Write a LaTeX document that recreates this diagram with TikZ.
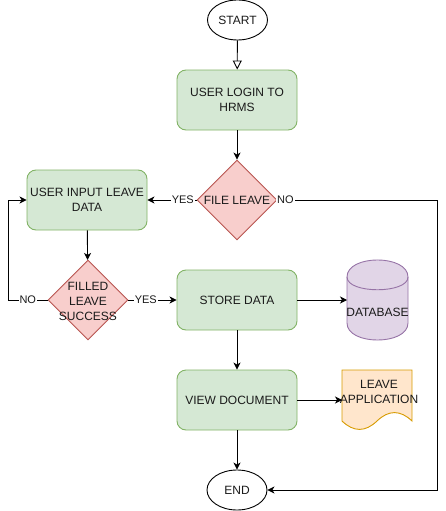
\documentclass[tikz,border=0pt]{standalone}
\usepackage{fontspec}
\setmainfont{Liberation Sans}
\usetikzlibrary{shapes.geometric,arrows.meta}
\definecolor{gfill}{HTML}{D5E8D4}\definecolor{gline}{HTML}{82B366}
\definecolor{rfill}{HTML}{F8CECC}\definecolor{rline}{HTML}{B85450}
\definecolor{pfill}{HTML}{E1D5E7}\definecolor{pline}{HTML}{9673A6}
\definecolor{ofill}{HTML}{FFE6CC}\definecolor{oline}{HTML}{D79B00}
\definecolor{txt}{HTML}{1A1A1A}
\tikzset{
  every node/.style={font=\fontsize{12}{15}\selectfont, text=txt},
  term/.style={ellipse, draw=black, line width=0.9pt, fill=white, minimum width=60, minimum height=40, inner sep=0},
  procbox/.style={rectangle, rounded corners=9, draw=gline, fill=gfill, line width=0.9pt, minimum width=120, minimum height=60, align=center, inner sep=0},
  decis/.style={diamond, draw=rline, fill=rfill, line width=0.9pt, minimum width=80, minimum height=80, inner sep=0, shape aspect=1},
  lbl/.style={fill=white, inner sep=1pt, font=\fontsize{11}{13}\selectfont},
  conn/.style={draw=black, line width=0.9pt, -{Stealth[length=7,width=7,inset=2]}},
}
\begin{document}
\begin{tikzpicture}[x=1pt,y=-1pt]
\useasboundingbox (0,0) rectangle (446,511);
\node[term] (start) at (237.5,20) {START};
\node[procbox] (login) at (237,100) {USER LOGIN TO\\HRMS};
\node[decis] (file) at (237,200) {};
\node at (file) {FILE LEAVE};
\node[procbox] (input) at (87,200) {USER INPUT LEAVE\\DATA};
\node[decis] (filled) at (88,300) {};
\node[align=center, font=\fontsize{12}{15}\selectfont] at (88,301) {FILLED\\LEAVE\\SUCCESS};
\node[procbox] (store) at (237,300) {STORE DATA};
\node[procbox] (view) at (237,400) {VIEW DOCUMENT};
\node[term] (end) at (237,490) {END};
% database cylinder
\coordinate (db) at (347,300);
\path[draw=pline, fill=pfill, line width=0.9pt]
  (347,277) .. controls (347,254.3) and (408,254.3) .. (408,277)
  -- (408,323) .. controls (408,345.7) and (347,345.7) .. (347,323) -- cycle;
\draw[pline, line width=0.9pt] (347,277) .. controls (347,294) and (408,294) .. (408,277);
\node (dbt) at (377.5,312) {DATABASE};
% document
\coordinate (doc) at (342,400);
\path[draw=oline, fill=ofill, line width=0.9pt]
  (342,370) -- (412,370) -- (412,421)
  .. controls (400.3,409.8) and (388.7,409.8) .. (377,421)
  .. controls (365.3,432.2) and (353.7,432.2) .. (342,421) -- cycle;
\node[align=center] (doct) at (379,392) {LEAVE\\APPLICATION};
% connectors
\coordinate (r1) at (437,200);
\coordinate (r2) at (437,490);
\coordinate (l1) at (8,300);
\coordinate (l2) at (8,200);
\draw[line width=0.9pt, -{Triangle[open,length=9,width=9]}] (start) -- (login);
\draw[conn] (login) -- (file);
\draw[conn] (file.west) -- node[lbl, pos=0.28] {YES} (input.east);
\draw[conn] (file.east) -- node[lbl, pos=0.05] {NO} (r1) -- (r2) -- (end.east);
\draw[conn] (input) -- (filled);
\draw[conn] (filled.east) -- node[lbl, pos=0.36] {YES} (store.west);
\draw[conn] (filled.west) -- node[lbl, pos=0.5] {NO} (l1) -- (l2) -- (input.west);
\draw[conn] (store) -- (db);
\draw[conn] (store) -- (view);
\draw[conn] (view) -- (doc);
\draw[conn] (view) -- (end);
\end{tikzpicture}
\end{document}
